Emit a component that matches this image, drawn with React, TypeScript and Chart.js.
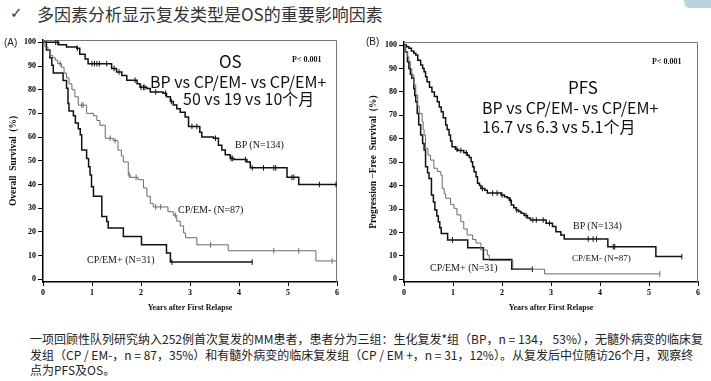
import React, { useEffect, useRef } from "react";
import { Chart, registerables } from "chart.js";
Chart.register(...registerables);

// ---------- ticks ----------
const xTicks = [0, 1, 2, 3, 4, 5, 6];
const yTicks = [0, 10, 20, 30, 40, 50, 60, 70, 80, 90, 100];

// ---------- Panel A: Overall Survival ----------
const osBpT = [0, 0.32, 0.48, 0.69, 0.75, 0.86, 0.92, 1.4, 1.5, 1.61, 1.71, 1.92, 1.98, 2.12, 2.19, 2.45, 2.52, 2.6, 2.66, 2.73, 2.8, 2.9, 2.97, 3.2, 3.24, 3.48, 3.58, 3.65, 3.72, 3.82, 3.9, 4.16, 4.23, 4.98, 5.22, 6.0];
const osBpS = [100, 99, 98, 97.5, 95, 93, 91, 89, 87.5, 86, 84, 82.5, 81, 80.5, 79, 78.5, 77, 75, 73.5, 72, 70.5, 68.5, 64.5, 62, 60, 59.5, 56.5, 54.5, 52.5, 51, 50.5, 49.5, 47, 43, 40, 40];
const osBpCensT = [0.26, 0.3, 0.7, 1.0, 1.05, 1.1, 1.15, 1.3, 1.45, 1.55, 1.88, 2.0, 2.05, 2.08, 2.3, 2.5, 2.62, 3.04, 3.14, 3.52, 3.84, 3.87, 4.13, 4.27, 4.5, 4.71, 4.75, 5.08, 5.12, 5.64, 5.98];
const osBpCensS = [100, 100, 97.5, 91, 91, 91, 91, 91, 89, 87.5, 84, 81, 81, 81, 79, 78.5, 75, 64.5, 64.5, 59.5, 51, 51, 50.5, 47, 47, 47, 47, 43, 43, 40, 40];

const osEmNegT = [0, 0.04, 0.1, 0.14, 0.2, 0.25, 0.3, 0.38, 0.43, 0.48, 0.53, 0.59, 0.65, 0.72, 0.89, 1.03, 1.1, 1.16, 1.27, 1.43, 1.53, 1.6, 1.64, 1.74, 1.78, 1.94, 2.05, 2.12, 2.19, 2.25, 2.55, 2.66, 2.73, 2.8, 2.87, 2.91, 3.14, 3.78, 5.57, 6.0];
const osEmNegS = [100, 98, 96.5, 94.5, 93.5, 92.5, 91, 89.5, 87, 85, 82.5, 80, 77, 73.5, 70, 69, 67, 65, 59.5, 58.5, 54.5, 52, 49.5, 44, 43, 42, 38.5, 35, 32, 30.5, 28.5, 27, 24.5, 22.5, 19.5, 17.5, 14.5, 12, 7.7, 7.7];
const osEmNegCensT = [0.35, 0.79, 0.82, 1.37, 1.47, 1.76, 1.9, 2.3, 2.4, 2.7, 3.42, 4.71, 5.22, 5.9];
const osEmNegCensS = [91, 73.5, 73.5, 59.5, 58.5, 44, 43, 30.5, 30.5, 27, 14.5, 12, 12, 7.7];

const osEmPosT = [0, 0.07, 0.14, 0.18, 0.21, 0.41, 0.48, 0.51, 0.53, 0.62, 0.66, 0.72, 0.76, 0.79, 0.89, 0.93, 0.96, 0.99, 1.03, 1.2, 1.3, 1.33, 1.64, 2.01, 2.52, 2.6, 4.27];
const osEmPosS = [100, 96.8, 93.5, 90.3, 87.1, 83.9, 80.6, 74.2, 71, 69, 66, 63.5, 61, 54.5, 51, 47.5, 44, 39, 35, 26.5, 24.3, 21.6, 18, 14.5, 11, 7.2, 7.2];
const osEmPosCensT = [2.63, 4.27];
const osEmPosCensS = [7.2, 7.2];

// ---------- Panel B: Progression-Free Survival ----------
const pfsBpT = [0, 0.05, 0.1, 0.15, 0.2, 0.24, 0.28, 0.34, 0.38, 0.41, 0.44, 0.47, 0.52, 0.57, 0.62, 0.68, 0.72, 0.76, 0.8, 0.85, 0.88, 0.92, 0.95, 0.98, 1.05, 1.1, 1.22, 1.29, 1.33, 1.37, 1.4, 1.43, 1.47, 1.5, 1.54, 1.57, 1.65, 1.7, 1.98, 2.05, 2.11, 2.15, 2.19, 2.24, 2.29, 2.34, 2.39, 2.45, 2.52, 2.58, 2.9, 3.03, 3.1, 3.2, 3.27, 4.16, 5.14, 5.67];
const pfsBpS = [100, 99.3, 98.6, 97.5, 96.5, 95.7, 93.5, 91.5, 90, 88.6, 86.5, 84.3, 82, 80, 78, 75.8, 73.5, 71.5, 69, 65.9, 64, 61.6, 59, 56.6, 55.5, 55, 54, 53, 52, 50.2, 48, 45.9, 43.8, 41, 40, 38.8, 38, 36.8, 36, 35.2, 34.7, 33.8, 31.7, 30.5, 29.6, 28.9, 28.2, 27.2, 26.2, 25.3, 23.9, 22.5, 20.3, 18.9, 17.2, 13.9, 9.7, 9.7];
const pfsBpCensT = [1.08, 1.16, 1.27, 1.6, 1.81, 1.9, 2.0, 2.17, 2.3, 2.49, 2.63, 2.7, 2.84, 2.97, 3.76, 3.86, 3.93, 4.27, 4.3, 5.67];
const pfsBpCensS = [55.5, 55, 54, 38.8, 36.8, 36.8, 36, 33.8, 29.6, 27.2, 25.3, 25.3, 25.3, 23.9, 17.2, 17.2, 17.2, 13.9, 13.9, 9.7];

const pfsEmNegT = [0, 0.03, 0.07, 0.1, 0.13, 0.16, 0.2, 0.24, 0.28, 0.31, 0.37, 0.39, 0.41, 0.44, 0.49, 0.54, 0.61, 0.68, 0.75, 0.78, 0.82, 0.85, 0.95, 1.02, 1.08, 1.16, 1.22, 1.29, 1.4, 1.47, 1.57, 1.7, 1.74, 2.22, 2.87, 5.22];
const pfsEmNegS = [100, 97, 95, 92.9, 90, 87.2, 83, 78.7, 74, 70.8, 67.3, 64, 61.6, 55.9, 53, 50.9, 47.4, 46, 44.5, 38.8, 36.5, 34.6, 32, 30.3, 27.5, 24.6, 21.5, 18.9, 17, 15.5, 12.5, 10.4, 8, 4.3, 2.3, 2.3];
const pfsEmNegCensT = [5.22];
const pfsEmNegCensS = [2.3];

const pfsEmPosT = [0, 0.03, 0.07, 0.1, 0.13, 0.16, 0.2, 0.22, 0.24, 0.27, 0.3, 0.34, 0.38, 0.41, 0.44, 0.48, 0.51, 0.56, 0.6, 0.63, 0.67, 0.7, 0.73, 0.76, 0.89, 1.3, 1.62, 2.2, 2.62];
const pfsEmPosS = [100, 97, 92.9, 90, 87.5, 85.8, 81.5, 78.5, 75.8, 70.8, 66, 61.6, 58, 55.2, 48, 45.5, 43, 36, 33, 29.6, 27, 24.6, 22, 19.6, 16.8, 13.5, 8.5, 4.3, 4.3];
const pfsEmPosCensT = [0.99, 2.62];
const pfsEmPosCensS = [16.8, 4.3];

// ---------- helpers ----------
const zip = (t: number[], s: number[]) => t.map((x, i) => ({ x, y: s[i] }));
const BLACK = "#111111";
const GRAY = "#6a6a6a";
const SERIF = '"Liberation Serif", "Times New Roman", serif';
const CJK = '"Noto Sans CJK SC", "Noto Sans", sans-serif';

const curve = (t: number[], s: number[], color: string, width: number) => ({
  data: zip(t, s),
  borderColor: color,
  borderWidth: width,
  stepped: "before" as const,
  pointRadius: 0,
  fill: false,
  tension: 0,
});
const censor = (t: number[], s: number[], color: string) => ({
  data: zip(t, s),
  showLine: false,
  pointStyle: "line" as const,
  pointRotation: 90,
  pointRadius: 2.8,
  pointBorderWidth: 1,
  pointBorderColor: color,
  pointBackgroundColor: color,
  borderColor: color,
});

const boxPlugin = {
  id: "boxFrame",
  beforeDatasetsDraw(chart: any) {
    const { ctx, chartArea } = chart;
    const { left, top, right, bottom } = chartArea;
    ctx.save();
    ctx.strokeStyle = "#777";
    ctx.lineWidth = 1;
    ctx.beginPath();
    ctx.moveTo(left, top + 0.5);
    ctx.lineTo(right - 0.5, top + 0.5);
    ctx.lineTo(right - 0.5, bottom);
    ctx.stroke();
    ctx.restore();
  },
};

function makeConfig(datasets: any[], yTitle: string, yMin: number, yMax: number, padTop: number, padRight: number, yWidth: number) {
  const tickFont = { family: SERIF, size: 8, weight: "bold" as const };
  return {
    type: "line" as const,
    data: { datasets },
    plugins: [boxPlugin],
    options: {
      responsive: false,
      animation: false as const,
      events: [],
      layout: { padding: { top: padTop, right: padRight, left: 0, bottom: 0 } },
      plugins: { legend: { display: false }, tooltip: { enabled: false } },
      scales: {
        x: {
          type: "linear" as const,
          min: 0,
          max: 6,
          afterFit: (s: any) => { s.height = 38; },
          afterBuildTicks: (s: any) => { s.ticks = xTicks.map((v) => ({ value: v })); },
          grid: { display: true, drawOnChartArea: false, drawTicks: true, tickLength: 4, color: "#000", lineWidth: 1 },
          border: { display: true, color: "#000", width: 1.5 },
          ticks: { font: tickFont, color: "#000", padding: 2, maxRotation: 0, autoSkip: false },
          title: { display: true, text: "Years after First Relapse", font: { family: SERIF, size: 8, weight: "bold" as const }, color: "#111", padding: { top: 0, bottom: 7 } },
        },
        y: {
          type: "linear" as const,
          min: yMin,
          max: yMax,
          afterFit: (s: any) => { s.width = yWidth; },
          afterBuildTicks: (s: any) => { s.ticks = yTicks.map((v) => ({ value: v })); },
          grid: { display: true, drawOnChartArea: false, drawTicks: true, tickLength: 5, color: "#000", lineWidth: 1 },
          border: { display: true, color: "#000", width: 1.5 },
          ticks: { font: tickFont, color: "#000", padding: 2, autoSkip: false },
          title: { display: true, text: yTitle, font: { family: SERIF, size: 9.5, weight: "bold" as const }, color: "#111", padding: { top: 8, bottom: 0 } },
        },
      },
    },
  };
}

function KMChart(props: { left: number; config: any }) {
  const ref = useRef<HTMLCanvasElement | null>(null);
  useEffect(() => {
    if (!ref.current) return;
    const chart = new Chart(ref.current, props.config);
    return () => chart.destroy();
  }, []);
  return (
    <canvas
      ref={ref}
      width={345}
      height={320}
      style={{ position: "absolute", left: props.left, top: 0, width: 345, height: 320 }}
    />
  );
}

function T(props: { x: number; y: number; size: number; family: string; bold?: boolean; color?: string; children: any }) {
  return (
    <div
      style={{
        position: "absolute",
        left: props.x,
        top: props.y,
        transform: "translateY(-50%)",
        fontSize: props.size,
        fontFamily: props.family,
        fontWeight: props.bold ? 700 : 400,
        color: props.color || "#111",
        lineHeight: 1.15,
        whiteSpace: "nowrap",
      }}
    >
      {props.children}
    </div>
  );
}

export default function App() {
  const cfgA = makeConfig(
    [
      curve(osEmNegT, osEmNegS, GRAY, 1),
      censor(osEmNegCensT, osEmNegCensS, GRAY),
      curve(osBpT, osBpS, BLACK, 1.5),
      censor(osBpCensT, osBpCensS, BLACK),
      curve(osEmPosT, osEmPosS, BLACK, 1.5),
      censor(osEmPosCensT, osEmPosCensS, BLACK),
    ],
    "Overall  Survival  (%)",
    -1.2,
    101,
    40,
    8,
    43
  );
  const cfgB = makeConfig(
    [
      curve(pfsEmNegT, pfsEmNegS, GRAY, 1),
      censor(pfsEmNegCensT, pfsEmNegCensS, GRAY),
      curve(pfsBpT, pfsBpS, BLACK, 1.5),
      censor(pfsBpCensT, pfsBpCensS, BLACK),
      curve(pfsEmPosT, pfsEmPosS, BLACK, 1.5),
      censor(pfsEmPosCensT, pfsEmPosCensS, BLACK),
    ],
    "Progression \u2212Free  Survival  (%)",
    -1.15,
    101.3,
    42,
    7,
    44
  );

  return (
    <div style={{ position: "absolute", left: 0, top: 0, width: 711, height: 381, background: "#fff", overflow: "hidden" }}>
      <div style={{ position: "absolute", left: 684, top: 0, width: 27, height: 8, background: "#b9d4dd", borderBottomLeftRadius: 6 }} />
      <T x={10} y={14} size={15} family={'"DejaVu Sans", sans-serif'} color="#333">✓</T>
      <T x={37} y={14} size={17} family={CJK} color="#333">多因素分析显示复发类型是OS的重要影响因素</T>

      <KMChart left={0} config={cfgA} />
      <KMChart left={360} config={cfgB} />

      <T x={4} y={43} size={10} family={'"Liberation Sans", Arial, sans-serif'} color="#222">(A)</T>
      <T x={366} y={42} size={10} family={'"Liberation Sans", Arial, sans-serif'} color="#222">(B)</T>

      <T x={219} y={61} size={17} family={CJK}>OS</T>
      <T x={292} y={60} size={8} family={SERIF} bold>P&lt; 0.001</T>
      <T x={150} y={81} size={16} family={CJK}>BP vs CP/EM- vs CP/EM+</T>
      <T x={183} y={98} size={16} family={CJK}>50 vs 19 vs 10个月</T>

      <T x={568} y={87} size={17} family={CJK}>PFS</T>
      <T x={652} y={62} size={8} family={SERIF} bold>P&lt; 0.001</T>
      <T x={482} y={107} size={16} family={CJK}>BP vs CP/EM- vs CP/EM+</T>
      <T x={482} y={126} size={16} family={CJK}>16.7 vs 6.3 vs 5.1个月</T>

      <T x={235} y={145} size={10} family={SERIF}>BP (N=134)</T>
      <T x={178} y={210} size={10} family={SERIF}>CP/EM- (N=87)</T>
      <T x={87} y={260} size={10} family={SERIF}>CP/EM+ (N=31)</T>

      <T x={573} y={226} size={10} family={SERIF}>BP (N=134)</T>
      <T x={572} y={258} size={9} family={SERIF}>CP/EM- (N=87)</T>
      <T x={430} y={268} size={10} family={SERIF}>CP/EM+ (N=31)</T>

      <T x={30} y={339} size={12} family={CJK} color="#222">一项回顾性队列研究纳入252例首次复发的MM患者，患者分为三组：生化复发*组（BP，n = 134， 53%），无髓外病变的临床复</T>
      <T x={30} y={355} size={12} family={CJK} color="#222">发组（CP / EM-，n = 87，35%）和有髓外病变的临床复发组（CP / EM +，n = 31，12%）。从复发后中位随访26个月，观察终</T>
      <T x={30} y={370} size={12} family={CJK} color="#222">点为PFS及OS。</T>
    </div>
  );
}
